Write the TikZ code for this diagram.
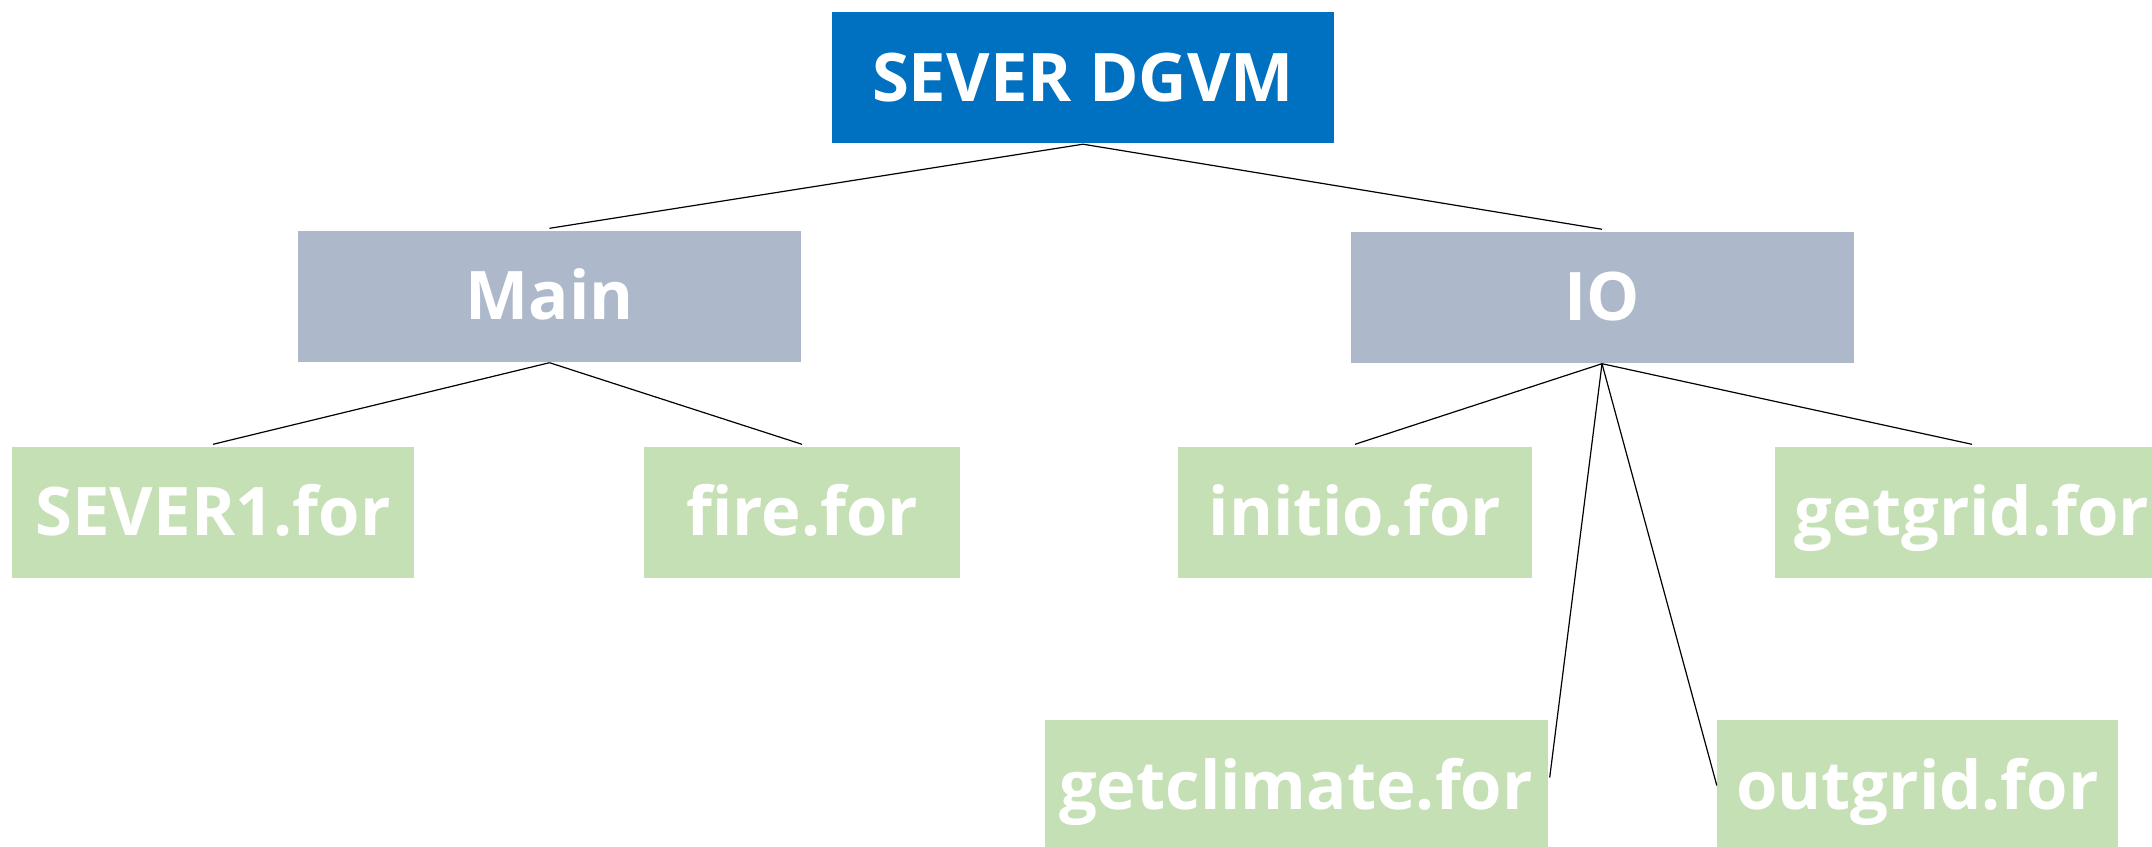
\documentclass[tikz,border=0pt]{standalone}
\usepackage{fontspec}
\setmainfont{Open Sans}
\definecolor{topblue}{HTML}{0070C0}
\definecolor{midgrey}{HTML}{ADB9CA}
\definecolor{leafgreen}{HTML}{C5E0B4}
\begin{document}
\begin{tikzpicture}[x=1pt,y=-1pt,
  box/.style={rectangle, inner sep=0pt, text=white,
    font=\fontsize{67}{80}\selectfont\bfseries,
    text height=47.8pt, text depth=0pt, minimum height=131pt},
  topbox/.style={box, fill=topblue},
  midbox/.style={box, fill=midgrey},
  leafbox/.style={box, fill=leafgreen},
  link/.style={draw=black, line width=1.2pt}]
\useasboundingbox (0,0) rectangle (2152,846);
\fill[white] (0,0) rectangle (2152,846);
\node[topbox, minimum width=502pt] (top) at (1083,77.5) {SEVER DGVM};
\node[midbox, minimum width=503pt] (main) at (549.5,296) {Main};
\node[midbox, minimum width=503pt] (io) at (1602,297) {IO};
\node[leafbox, minimum width=402pt] (sever1) at (213,512) {SEVER1.for};
\node[leafbox, minimum width=316pt] (fire) at (802,512) {fire.for};
\node[leafbox, minimum width=354pt] (initio) at (1355,512) {initio.for};
\node[leafbox, minimum width=394pt] (getgrid) at (1972,512) {getgrid.for};
\node[leafbox, minimum width=503pt] (getclimate) at (1296,785.5) {getclimate.for};
\node[leafbox, minimum width=401pt] (outgrid) at (1917.5,785.5) {outgrid.for};
\draw[link] ([yshift=-1pt]top.south) -- ([yshift=2pt]main.north);
\draw[link] ([yshift=-1pt]top.south) -- ([yshift=2pt]io.north);
\draw[link] ([yshift=-1pt]main.south) -- ([yshift=2pt]sever1.north);
\draw[link] ([yshift=-1pt]main.south) -- ([yshift=2pt]fire.north);
\draw[link] ([yshift=-1pt]io.south) -- ([yshift=2pt]initio.north);
\draw[link] ([yshift=-1pt]io.south) -- ([yshift=2pt]getgrid.north);
\draw[link] ([yshift=-1pt]io.south) -- ([xshift=2pt,yshift=8pt]getclimate.east);
\draw[link] ([yshift=-1pt]io.south) -- (outgrid.west);
\end{tikzpicture}
\end{document}
